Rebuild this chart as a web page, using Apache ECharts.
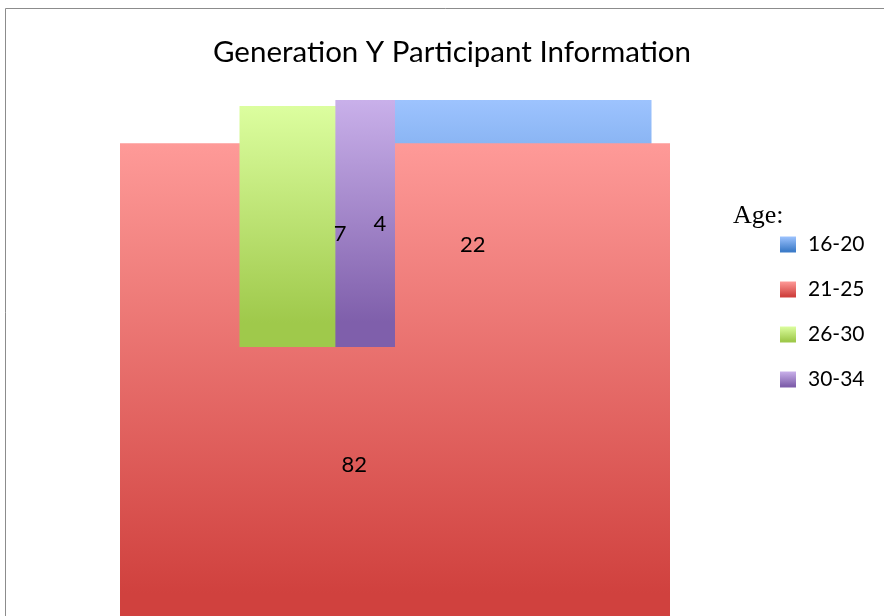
<!DOCTYPE html>
<html>
<head>
<meta charset="utf-8">
<script src="https://cdn.jsdelivr.net/npm/echarts@6/dist/echarts.min.js"></script>
<style>
  html, body { margin: 0; padding: 0; background: #fff; }
  #main { width: 884px; height: 616px; }
</style>
</head>
<body>
<div id="main"></div>
<script>
// data
var ageGroups = ['16-20', '21-25', '26-30', '30-34'];
var counts = [22, 82, 7, 4];

// gradient colours, light on top, dark at the bottom
var topColors = ['#9dc3fe', '#fe9a98', '#dcfe9f', '#c9b0ea'];
var bottomColors = ['#3d7cc9', '#d0413e', '#9fc94b', '#7f5fab'];

var total = counts.reduce(function (a, b) { return a + b; }, 0);
var depth = 0.2; // thickness of the (3d) pie below the top face, in radius units

function grad(i) {
    return new echarts.graphic.LinearGradient(0, 0, 0, 1, [
        { offset: 0, color: topColors[i] },
        { offset: 0.9, color: bottomColors[i] },
        { offset: 1, color: bottomColors[i] }
    ]);
}

function sliceAngles(i) {
    var before = 0;
    for (var k = 0; k < i; k++) before += counts[k];
    var a0 = before / total * Math.PI * 2;
    var a1 = (before + counts[i]) / total * Math.PI * 2;
    return [a0, a1];
}

// bounding box of a slice, angles clockwise from 12 o'clock, unit circle
function sliceBox(a0, a1) {
    var pts = [[0, 0], [Math.sin(a0), Math.cos(a0)], [Math.sin(a1), Math.cos(a1)]];
    for (var k = 0; k <= 4; k++) {
        var t = k * Math.PI / 2;
        if (t > a0 && t < a1) pts.push([Math.sin(t), Math.cos(t)]);
    }
    var xs = pts.map(function (p) { return p[0]; });
    var ys = pts.map(function (p) { return p[1]; });
    var minY = Math.min.apply(null, ys);
    // front facing part shows the side wall
    if (a1 > Math.PI / 2 && a0 < Math.PI * 1.5) minY -= depth;
    return {
        x0: Math.min.apply(null, xs), x1: Math.max.apply(null, xs),
        y0: minY, y1: Math.max.apply(null, ys)
    };
}

var myChart = echarts.init(document.getElementById('main'));

var series = ageGroups.map(function (name, i) {
    return {
        name: name,
        type: 'custom',
        coordinateSystem: 'cartesian2d',
        itemStyle: { color: grad(i) },
        data: [[0, 0, counts[i], i]],
        renderItem: function (params, api) {
            var idx = api.value(3);
            var a = sliceAngles(idx);
            var b = sliceBox(a[0], a[1]);
            var p1 = api.coord([b.x0, b.y1]);
            var p2 = api.coord([b.x1, b.y0]);
            return {
                type: 'rect',
                shape: { x: p1[0], y: p1[1], width: p2[0] - p1[0], height: p2[1] - p1[1] },
                style: { fill: grad(idx) }
            };
        }
    };
});

// data labels on top of every slice
series.push({
    name: 'labels',
    type: 'custom',
    coordinateSystem: 'cartesian2d',
    z: 5,
    data: counts.map(function (c, i) { return [0, 0, c, i]; }),
    renderItem: function (params, api) {
        var idx = api.value(3);
        var a = sliceAngles(idx);
        var m = (a[0] + a[1]) / 2;
        var p = api.coord([0.5 * Math.sin(m), 0.5 * Math.cos(m)]);
        return {
            type: 'text',
            x: p[0], y: p[1],
            style: {
                text: String(api.value(2)),
                fill: '#000',
                font: '22px Lato',
                align: 'center',
                verticalAlign: 'middle'
            }
        };
    }
});

myChart.setOption({
    animation: false,
    title: {
        text: 'Generation Y Participant Information',
        left: 208,
        top: 32,
        textStyle: { fontFamily: 'Lato', fontSize: 29.5, fontWeight: 'normal', color: '#000' }
    },
    legend: {
        data: ageGroups,
        orient: 'vertical',
        left: 775,
        top: 229,
        icon: 'rect',
        itemWidth: 16,
        itemHeight: 16,
        itemGap: 24,
        selectedMode: false,
        textStyle: { fontFamily: 'Lato', fontSize: 21, color: '#000', lineHeight: 16, padding: [0, 0, 0, 7] }
    },
    graphic: [
        {
            type: 'rect',
            silent: true,
            shape: { x: 5.5, y: 8.5, width: 900, height: 700 },
            style: { fill: 'none', stroke: '#8c8c8c', lineWidth: 1 }
        },
        {
            type: 'text',
            left: 733,
            top: 203,
            style: { text: 'Age:', font: '26px "Liberation Serif"', fill: '#000' }
        }
    ],
    grid: { left: 120, right: 214, top: 100, bottom: 22 },
    xAxis: { type: 'value', min: -1, max: 1, show: false },
    yAxis: { type: 'value', min: -1, max: 1, show: false },
    series: series
});
</script>
</body>
</html>
